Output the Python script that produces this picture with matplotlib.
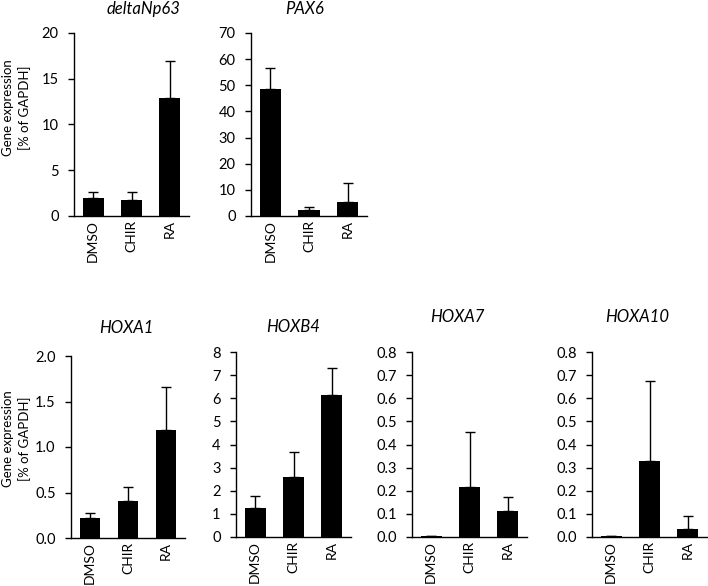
import numpy as np
import matplotlib
matplotlib.use("Agg")
import matplotlib.pyplot as plt

plt.rcParams['font.family'] = ['Lato', 'DejaVu Sans']

groups = ['DMSO', 'CHIR', 'RA']

# gene expression (% of GAPDH), mean and upper end of the error bar
genes = ['deltaNp63', 'PAX6', 'HOXA1', 'HOXB4', 'HOXA7', 'HOXA10']
means_dnp63 = [2.0, 1.8, 12.9]
top_dnp63 = [2.6, 2.6, 16.9]
means_pax6 = [48.5, 2.3, 5.5]
top_pax6 = [56.6, 3.6, 12.8]
means_hoxa1 = [0.22, 0.41, 1.19]
top_hoxa1 = [0.27, 0.555, 1.66]
means_hoxb4 = [1.25, 2.61, 6.12]
top_hoxb4 = [1.76, 3.68, 7.3]
means_hoxa7 = [0.003, 0.215, 0.111]
top_hoxa7 = [0.003, 0.452, 0.174]
means_hoxa10 = [0.003, 0.33, 0.033]
top_hoxa10 = [0.003, 0.676, 0.089]

yticks_all = [
    [0, 5, 10, 15, 20],
    [0, 10, 20, 30, 40, 50, 60, 70],
    [0.0, 0.5, 1.0, 1.5, 2.0],
    [0, 1, 2, 3, 4, 5, 6, 7, 8],
    [0.0, 0.1, 0.2, 0.3, 0.4, 0.5, 0.6, 0.7, 0.8],
    [0.0, 0.1, 0.2, 0.3, 0.4, 0.5, 0.6, 0.7, 0.8],
]
yfmt = ['%d', '%d', '%.1f', '%d', '%.1f', '%.1f']

all_means = [means_dnp63, means_pax6, means_hoxa1, means_hoxb4, means_hoxa7, means_hoxa10]
all_tops = [top_dnp63, top_pax6, top_hoxa1, top_hoxb4, top_hoxa7, top_hoxa10]

W, H = 708, 586
# axes boxes in pixels: left, top, right, bottom
boxes = [
    (74, 33, 189, 216),
    (251, 33, 367, 216),
    (71, 356, 185, 538),
    (236, 352, 351, 537),
    (412, 352, 527, 537),
    (592, 352, 707, 537),
]
# title centres in pixels
title_pos = [(143, 9), (305, 9), (126, 328), (293, 327), (457, 317), (637, 317)]

fig = plt.figure(figsize=(W / 100, H / 100), dpi=100)

for i in range(6):
    l, t, r, b = boxes[i]
    ax = fig.add_axes([l / W, 1 - b / H, (r - l) / W, (b - t) / H])
    x = np.arange(len(groups))
    m = np.array(all_means[i])
    err = np.array(all_tops[i]) - m
    ax.bar(x, m, width=0.55, color='black', zorder=2)
    ax.errorbar(x, m, yerr=[np.zeros_like(err), err], fmt='none',
                ecolor='black', elinewidth=1, capsize=3.5, capthick=1, zorder=1)
    ax.set_xlim(-0.5, 2.5)
    ax.set_ylim(yticks_all[i][0], yticks_all[i][-1])
    ax.set_yticks(yticks_all[i])
    ax.set_yticklabels([yfmt[i] % v for v in yticks_all[i]], fontsize=10.5)
    ax.set_xticks(x)
    ax.set_xticklabels(groups, rotation=90, fontsize=10)
    ax.tick_params(axis='x', length=0, pad=3)
    ax.tick_params(axis='y', length=4.5, width=1, pad=6.5, direction='out')
    ax.spines['top'].set_visible(False)
    ax.spines['right'].set_visible(False)
    ax.spines['left'].set_linewidth(1)
    ax.spines['bottom'].set_linewidth(1)
    tx, ty = title_pos[i]
    fig.text(tx / W, 1 - ty / H, genes[i], fontsize=12, style='italic',
             ha='center', va='center')

# shared y labels
fig.text(8 / W, 1 - 108 / H, 'Gene expression', rotation=90, fontsize=9.5,
         ha='center', va='center')
fig.text(25 / W, 1 - 108 / H, '[% of GAPDH]', rotation=90, fontsize=9.5,
         ha='center', va='center')
fig.text(8 / W, 1 - 439 / H, 'Gene expression', rotation=90, fontsize=9.5,
         ha='center', va='center')
fig.text(25 / W, 1 - 439 / H, '[% of GAPDH]', rotation=90, fontsize=9.5,
         ha='center', va='center')

fig.savefig('out.png', dpi=100)
